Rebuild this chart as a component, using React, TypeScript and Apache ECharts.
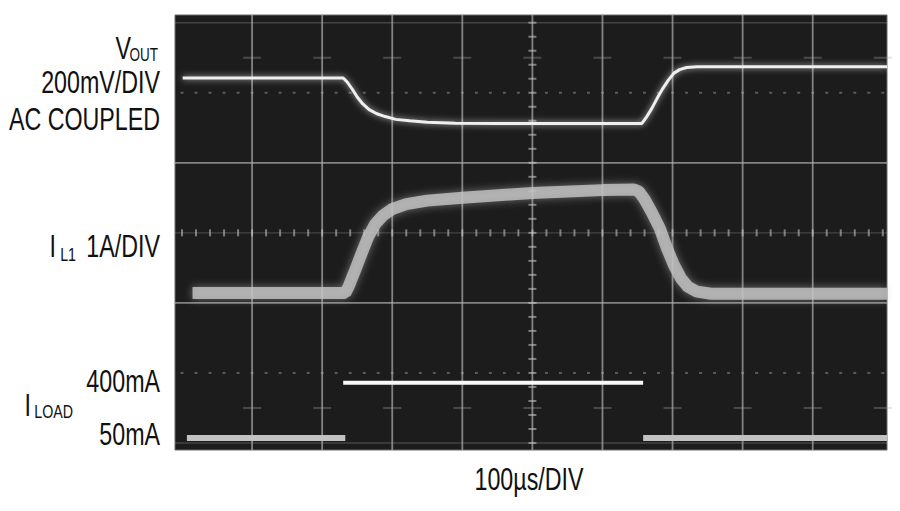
import React, { useEffect, useRef } from "react";
import * as echarts from "echarts";

// Oscilloscope traces, in divisions (x: 100µs/DIV, y: DIV from screen centre)
const VOUT: [number, number][] = [
  [0.01, 2.21], [2.3, 2.21], [2.36, 2.15], [2.43, 2.05], [2.5, 1.94], [2.58, 1.84],
  [2.67, 1.76], [2.78, 1.7], [2.9, 1.66], [3.05, 1.62], [3.25, 1.6], [3.5, 1.58],
  [3.9, 1.565], [4.5, 1.56], [6.56, 1.56], [6.62, 1.64], [6.7, 1.77], [6.78, 1.92],
  [6.86, 2.06], [6.94, 2.18], [7.02, 2.28], [7.1, 2.33], [7.2, 2.36], [7.35, 2.37],
  [10.06, 2.37],
];
const IL1: [number, number][] = [
  [0.15, -0.86], [2.33, -0.86], [2.38, -0.76], [2.46, -0.56], [2.56, -0.3], [2.66, -0.05],
  [2.76, 0.13], [2.87, 0.25], [3.0, 0.34], [3.2, 0.41], [3.5, 0.46], [4.0, 0.5],
  [5.0, 0.57], [6.0, 0.61], [6.45, 0.62], [6.52, 0.59], [6.6, 0.48], [6.7, 0.3],
  [6.82, 0.06], [6.92, -0.22], [7.02, -0.46], [7.12, -0.65], [7.22, -0.77], [7.35, -0.84],
  [7.55, -0.87], [10.06, -0.87],
];
const ILOAD_HIGH: [number, number][] = [[2.3, -2.14], [6.58, -2.14]];
const ILOAD_LOW_A: [number, number][] = [[0.07, -2.93], [2.33, -2.93]];
const ILOAD_LOW_B: [number, number][] = [[6.58, -2.93], [10.06, -2.93]];

// Graticule
const V_LINES = [1, 2, 3, 4, 5, 6, 7, 8, 9];
const H_SOLID = [-1, 1];
const H_FAINT = [-3, 0, 3];
const DOT_ROWS = [-2, 2];
const CROSS_ROWS = [-2.5, 2.5];
const CROSS_COLS = [1, 2, 3, 4, 5, 6, 7, 8, 9, 10];
const MINOR_STEP = 0.2;

const X_MIN = -0.1, X_MAX = 10.06, Y_MIN = -3.1, Y_MAX = 3.11;

function buildMinor(from: number, to: number): number[] {
  const out: number[] = [];
  for (let v = from; v <= to + 1e-9; v += MINOR_STEP) out.push(Math.round(v * 100) / 100);
  return out;
}

export default function App() {
  const ref = useRef<HTMLDivElement>(null);
  useEffect(() => {
    if (!ref.current) return;
    const chart = echarts.init(ref.current, undefined, { renderer: "svg" });
    const xs = buildMinor(0, 10);
    const ys = buildMinor(-3, 3);
    const hTicks = xs.map((x) => [x, 0]);
    const vTicks = ys.map((y) => [5, y]);
    const dots = DOT_ROWS.flatMap((y) => xs.map((x) => [x, y]));
    const crosses = CROSS_ROWS.flatMap((y) => CROSS_COLS.map((x) => [x, y]));

    const gridSeries = (data: number[][], color: string, width: number) => ({
      type: "line",
      data,
      symbol: "none",
      silent: true,
      clip: false,
      z: 3,
      lineStyle: { color, width },
    });

    const font = '"Liberation Sans", Arial, sans-serif';
    const txt = (text: string, x: number, y: number, size: number, align = "right", sx = 0.75) => ({
      type: "text",
      x,
      y,
      scaleX: sx,
      style: { text, fill: "#111", font: `${size}px ${font}`, textAlign: align, textVerticalAlign: "middle" },
    });

    // Flat (horizontal) traces get no shadow: an SVG filter on a zero-height box hides the line.
    const trace = (data: any, color: string, width: number, blur: number, glow: string) => ({
      type: "line",
      data,
      clip: false,
      symbol: "none",
      silent: true,
      lineStyle: blur > 0
        ? { color, width, shadowBlur: blur, shadowColor: glow, cap: "butt" }
        : { color, width, cap: "butt" },
      z: 5,
    });

    chart.setOption({
      animation: false,
      grid: {
        left: 175, top: 15, width: 712, height: 435, show: true,
        backgroundColor: "#1c1c1c", borderColor: "#6a6a6a", borderWidth: 1,
      },
      xAxis: { type: "value", min: X_MIN, max: X_MAX, show: false },
      yAxis: { type: "value", min: Y_MIN, max: Y_MAX, show: false },
      graphic: [
        txt("V", 131, 48, 31),
        txt("OUT", 158, 55, 18),
        txt("200mV/DIV", 160, 82, 31),
        txt("AC COUPLED", 160, 119, 31),
        txt("1A/DIV", 160, 246, 31),
        txt("L1", 76, 255, 19),
        txt("I", 56, 246, 31),
        txt("400mA", 160, 381, 31),
        txt("I", 31, 405, 31),
        txt("LOAD", 73, 412, 19),
        txt("50mA", 160, 434, 31),
        txt("100µs/DIV", 529, 479, 31, "center"),
      ],
      series: [
        ...V_LINES.map((x) => gridSeries([[x, Y_MIN], [x, Y_MAX]], "rgba(180,180,180,0.68)", 1.8)),
        ...H_SOLID.map((y) => gridSeries([[X_MIN, y], [X_MAX, y]], "rgba(180,180,180,0.68)", 1.8)),
        ...H_FAINT.map((y) => gridSeries([[X_MIN, y], [X_MAX, y]], "rgba(160,160,160,0.3)", 1.4)),
        {
          type: "scatter", data: hTicks, symbol: "rect", symbolSize: [2, 7], silent: true, z: 3,
          itemStyle: { color: "rgba(200,200,200,0.7)" },
        },
        {
          type: "scatter", data: vTicks, symbol: "rect", symbolSize: [8, 2], silent: true, z: 3,
          itemStyle: { color: "rgba(200,200,200,0.7)" },
        },
        {
          type: "scatter", data: dots, symbol: "rect", symbolSize: [3, 2], silent: true, z: 3,
          itemStyle: { color: "rgba(170,170,170,0.55)" },
        },
        {
          type: "scatter", data: crosses, symbol: "rect", symbolSize: [18, 2], silent: true, z: 3,
          itemStyle: { color: "rgba(170,170,170,0.4)" },
        },
        trace(IL1, "rgba(195,195,195,0.82)", 12, 8, "rgba(200,200,200,0.6)"),
        trace(VOUT, "#efefef", 3, 6, "rgba(255,255,255,0.7)"),
        trace(ILOAD_HIGH, "#f8f8f8", 4, 0, ""),
        trace(ILOAD_LOW_A, "#c2c2c2", 6, 0, ""),
        trace(ILOAD_LOW_B, "#c2c2c2", 6, 0, ""),
      ],
    });
    return () => chart.dispose();
  }, []);
  return (
    <div
      ref={ref}
      style={{ position: "absolute", left: 0, top: 0, width: 900, height: 511, background: "#fff" }}
    />
  );
}
